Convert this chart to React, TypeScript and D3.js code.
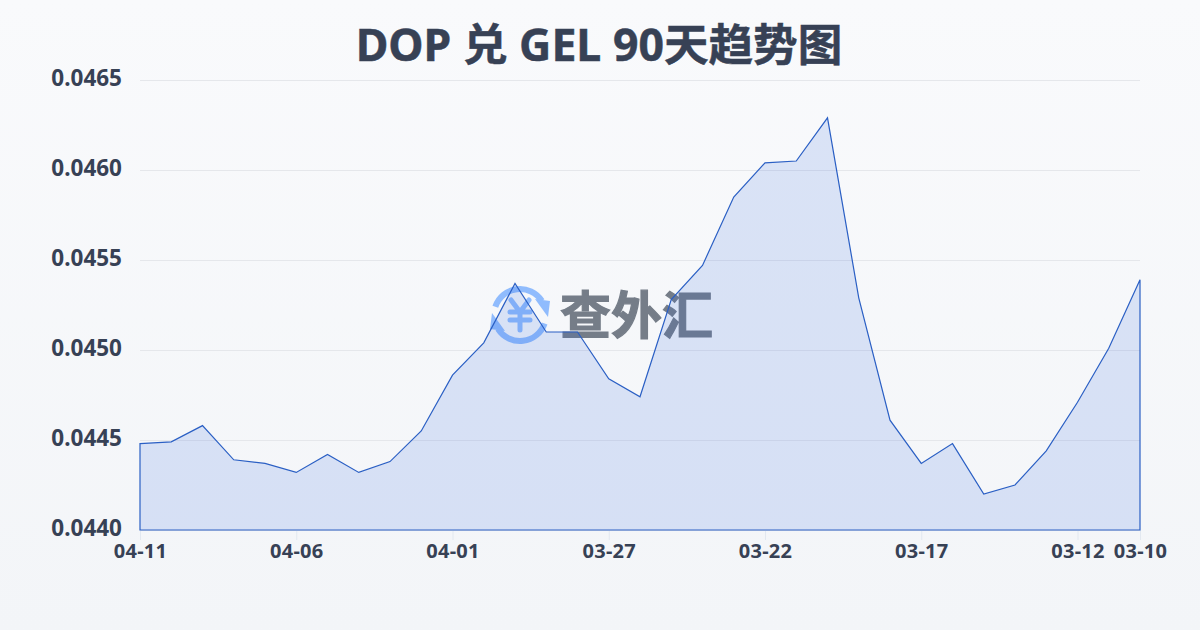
import { arc, area, axisBottom, axisLeft, scaleLinear, scalePoint, select } from 'd3'
import { useEffect, useRef } from 'react'

const dates = [
  '04-11', '04-10', '04-09', '04-08', '04-07', '04-06', '04-05', '04-04', '04-03', '04-02', '04-01',
  '03-31', '03-30', '03-29', '03-28', '03-27', '03-26', '03-25', '03-24', '03-23', '03-22', '03-21',
  '03-20', '03-19', '03-18', '03-17', '03-16', '03-15', '03-14', '03-13', '03-12', '03-11', '03-10',
]
const rates = [
  0.04448, 0.04449, 0.04458, 0.04439, 0.04437, 0.04432, 0.04442, 0.04432, 0.04438, 0.04455, 0.04486,
  0.04504, 0.04537, 0.04510, 0.04510, 0.04484, 0.04474, 0.04528, 0.04547, 0.04585, 0.04604, 0.04605,
  0.04629, 0.04529, 0.04461, 0.04437, 0.04448, 0.04420, 0.04425, 0.04444, 0.04471, 0.04501, 0.04539,
]
const dateTicks = ['04-11', '04-06', '04-01', '03-27', '03-22', '03-17', '03-12', '03-10']
const rateTicks = [0.044, 0.0445, 0.045, 0.0455, 0.046, 0.0465]

const width = 1200
const height = 630
const margin = { top: 80, right: 60, bottom: 100, left: 140 }
const labelFont = '"Noto Sans", "Noto Sans CJK SC", sans-serif'
const textColor = '#374155'

function App() {
  const xAxisRef = useRef<SVGGElement>(null)
  const yAxisRef = useRef<SVGGElement>(null)

  const xScale = scalePoint<string>()
    .domain(dates)
    .range([margin.left, width - margin.right])
  const yScale = scaleLinear()
    .domain([0.044, 0.0465])
    .range([height - margin.bottom, margin.top])

  const areaPath = area<number>()
    .x((_, i) => xScale(dates[i]) ?? 0)
    .y0(yScale(0.044))
    .y1((d) => yScale(d))
  const ringArc = arc()

  useEffect(() => {
    const xAxis = select(xAxisRef.current!)
    xAxis.call(axisBottom(xScale).tickValues(dateTicks).tickSize(10).tickPadding(4))
    xAxis.select('.domain').remove()
    xAxis.selectAll('line').attr('stroke', '#e2e8f0')
    xAxis.selectAll('text')
      .attr('fill', textColor)
      .style('font', `700 20px ${labelFont}`)
      .style('letter-spacing', '0.3px')

    const yAxis = select(yAxisRef.current!)
    yAxis.call(
      axisLeft(yScale)
        .tickValues(rateTicks)
        .tickSize(-(width - margin.left - margin.right))
        .tickPadding(18)
        .tickFormat((d) => Number(d).toFixed(4)),
    )
    yAxis.select('.domain').remove()
    yAxis.selectAll('line').attr('stroke', '#e5e7eb')
    yAxis.selectAll('text')
      .attr('fill', textColor)
      .attr('dy', '0.26em')
      .style('font', `700 22.5px ${labelFont}`)
  }, [])

  return (
    <>
      <style>{'body { margin: 0; }'}</style>
      <svg width={width} height={height} style={{ display: 'block' }}>
        <defs>
          <linearGradient id="page" x1="0" y1="0" x2="0" y2="1">
            <stop offset="0" stopColor="#f9fafc" />
            <stop offset="1" stopColor="#f3f5f8" />
          </linearGradient>
        </defs>
        <rect width={width} height={height} fill="url(#page)" />

        <text
          x={width / 2 - 1}
          y={61}
          textAnchor="middle"
          fill={textColor}
          stroke={textColor}
          strokeWidth={0.5}
          style={{ font: `700 44.6px ${labelFont}` }}
        >
          DOP 兑 GEL 90天趋势图
        </text>

        <g ref={yAxisRef} transform={`translate(${margin.left}, 0)`} />
        <g ref={xAxisRef} transform={`translate(0, ${height - margin.bottom})`} />

        <g opacity={0.75}>
          <g transform="translate(520, 315)" fill="#6ea8fe">
            <path d={ringArc({ innerRadius: 23, outerRadius: 29, startAngle: -1.25, endAngle: 1.0 }) ?? ''} />
            <path d={ringArc({ innerRadius: 23, outerRadius: 29, startAngle: 1.9, endAngle: 4.15 }) ?? ''} />
            <path d="M15 -16 L30 -14 L28 2 Z" />
            <path d="M-15 16 L-30 14 L-28 -2 Z" />
            <path
              d="M-9 -15 L0 -3 L9 -15 M-10 -3 H10 M-10 5 H10 M0 -3 V15"
              fill="none"
              stroke="#6ea8fe"
              strokeWidth={5}
              strokeLinecap="round"
              strokeLinejoin="round"
            />
          </g>
          <text x={560} y={334} fill="#4b5563" stroke="#4b5563" strokeWidth={1.2} style={{ font: `700 51px "Noto Sans CJK SC", sans-serif` }}>
            查外汇
          </text>
        </g>

        <path
          d={areaPath(rates) ?? ''}
          fill="#2f62e0"
          fillOpacity={0.15}
          stroke="#2a5fc4"
          strokeWidth={1.2}
        />
      </svg>
    </>
  )
}

export default App
